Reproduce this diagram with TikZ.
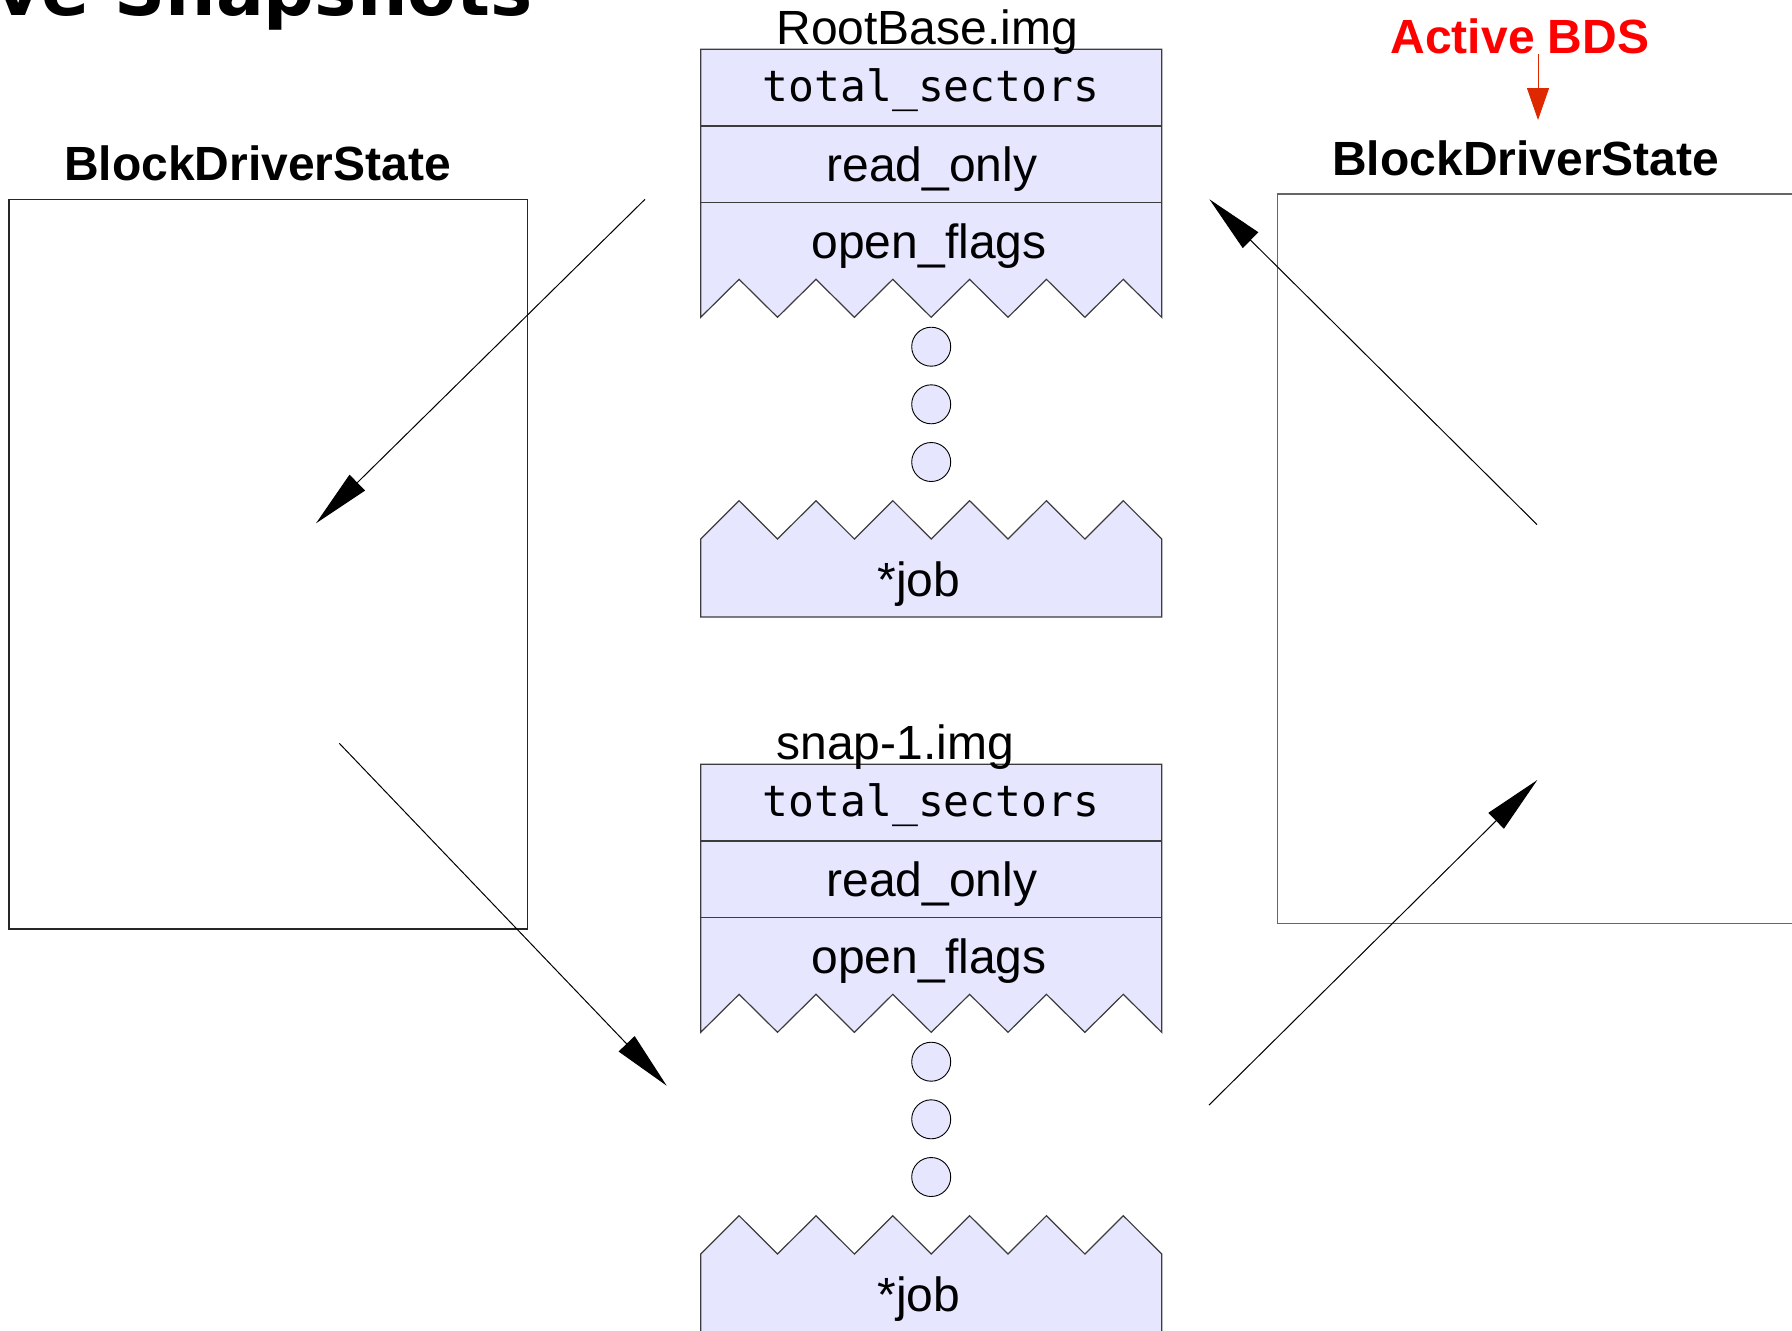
\documentclass[tikz,border=0pt]{standalone}
\usepackage{fontspec}
\setmainfont{Liberation Sans}
\newfontfamily\codefont{DejaVu Sans Mono}
\newfontfamily\headfont{DejaVu Sans}
\usetikzlibrary{arrows.meta}

\definecolor{structfill}{RGB}{230,230,255}
\definecolor{structline}{RGB}{60,60,60}
\definecolor{activered}{RGB}{255,0,0}
\definecolor{pointerred}{RGB}{221,40,0}

\begin{document}
\begin{tikzpicture}[x=0.5pt,y=-0.5pt,
  lbl/.style={inner sep=0pt, anchor=base, font=\fontsize{24}{28}\selectfont},
  hdr/.style={inner sep=0pt, anchor=base, font=\fontsize{24}{28}\selectfont\bfseries},
  code/.style={inner sep=0pt, anchor=base, font=\codefont\fontsize{21.5}{26}\selectfont},
  part/.style={fill=structfill, draw=structline, line width=0.6pt, line join=miter},
  divider/.style={draw=structline, line width=0.6pt},
  gap/.style={circle, inner sep=0pt, minimum size=19.5pt, fill=structfill, draw=black, line width=0.45pt},
  bdsbox/.style={draw=black!85, line width=0.55pt},
  link/.style={draw=black, line width=0.5pt, -{Triangle[length=29pt,width=11pt]}},
  redlink/.style={draw=pointerred, line width=0.5pt, -{Triangle[length=16pt,width=11pt,fill=pointerred]}}]

\useasboundingbox (0,0) rectangle (1792,1330);

% slide heading, partly outside the page
\node[inner sep=0pt, anchor=base east, font=\headfont\bfseries\fontsize{35.5}{40}\selectfont]
  (heading) at (533,15) {ve Snapshots};

% the two BlockDriverState boxes
\draw[bdsbox] (9,199.3) rectangle (527.5,929);
\node[hdr] (bdsleft) at (257.5,180) {BlockDriverState};

\draw[bdsbox, draw=black!60] (1277.5,194) rectangle (1800,923.3);
\node[hdr] (bdsright) at (1525.7,175) {BlockDriverState};

% active pointer
\node[hdr, text=activered] (active) at (1520,53.3) {Active BDS};
\coordinate (actfrom) at (1538,54);
\coordinate (actto) at (1538,120);
\draw[redlink] (actfrom) -- (actto);

% the two image structures
\foreach \img/\dy/\caption in {root/0/RootBase.img, snap/715/snap-1.img}{
  \begin{scope}[shift={(0,\dy)}]
    % header part with torn lower edge
    \path[part] (700.7,49.3) -- (1161.7,49.3) -- (1161.7,317.3)
      -- (1123.3,279.3) -- (1084.9,317.3) -- (1046.4,279.3) -- (1008.0,317.3)
      -- (969.6,279.3) -- (931.2,317.3) -- (892.8,279.3) -- (854.4,317.3)
      -- (816.0,279.3) -- (777.5,317.3) -- (739.1,279.3) -- (700.7,317.3) -- cycle;
    \draw[divider] (700.7,126) -- (1161.7,126);
    \draw[divider] (700.7,202.3) -- (1161.7,202.3);
    % tail part with torn upper edge
    \path[part] (700.7,617) -- (700.7,539)
      -- (739.1,500.7) -- (777.5,539) -- (816.0,500.7) -- (854.4,539)
      -- (892.8,500.7) -- (931.2,539) -- (969.6,500.7) -- (1008.0,539)
      -- (1046.4,500.7) -- (1084.9,539) -- (1123.3,500.7) -- (1161.7,539)
      -- (1161.7,617) -- cycle;
    % elided fields
    \node[gap] (\img-gapa) at (931.2,346.7) {};
    \node[gap] (\img-gapb) at (931.2,404.3) {};
    \node[gap] (\img-gapc) at (931.2,462) {};
    % captions and field names
    \node[lbl, anchor=base west] (\img-name) at (776,44.3) {\caption};
    \node[code] (\img-sectors) at (931,101.7) {total\_sectors};
    \node[lbl] (\img-ro) at (931.8,181.7) {read\_only};
    \node[lbl] (\img-flags) at (929,258) {open\_flags};
    \node[lbl] (\img-job) at (918.7,596.7) {*job};
  \end{scope}
}

% pointers between the states and the images
\coordinate (p1from) at (645,199.3);
\coordinate (p1to) at (316,523.3);
\coordinate (p2from) at (339.3,743.3);
\coordinate (p2to) at (666.7,1085.7);
\coordinate (p3from) at (1209,1105);
\coordinate (p3to) at (1537.3,780);
\coordinate (p4from) at (1537,524.6);
\coordinate (p4to) at (1209.4,199.3);
\draw[link] (p1from) -- (p1to);
\draw[link] (p2from) -- (p2to);
\draw[link] (p3from) -- (p3to);
\draw[link] (p4from) -- (p4to);
\end{tikzpicture}
\end{document}
